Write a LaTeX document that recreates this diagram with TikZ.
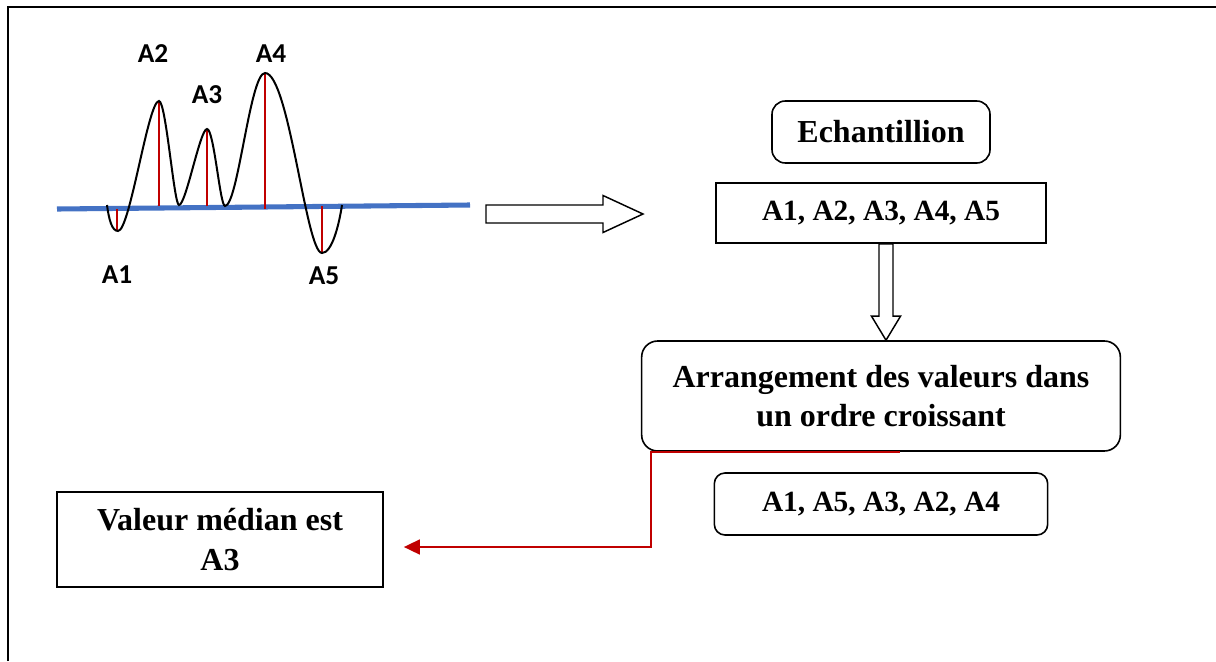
\documentclass[tikz,border=0pt]{standalone}
\usepackage{fontspec}
\setmainfont{Liberation Serif}
\newfontfamily\labelfont{Carlito}
\usetikzlibrary{shapes, calc, arrows.meta}
\definecolor{axisblue}{HTML}{4472C4}
\definecolor{stemred}{HTML}{C00000}

\begin{document}
\begin{tikzpicture}[x=0.75pt, y=-0.75pt]
		\tikzstyle{box}=[
		draw,
		rectangle,
		line width=1.2pt,
		inner sep=0pt,
		text centered,
		align=center,
		font=\fontsize{24}{29.5}\selectfont\bfseries]
		\tikzstyle{round}=[
		box,
		rounded corners=10pt]
		\tikzstyle{list}=[
		font=\fontsize{22}{26}\selectfont\bfseries]
		\tikzstyle{peak}=[
		anchor=base,
		font=\labelfont\bfseries\fontsize{20.5}{24}\selectfont]
		\tikzstyle{hollow}=[draw, fill=white, line width=1.1pt, line join=miter]
		\tikzstyle{stem}=[stemred, line width=1.5pt]
		\useasboundingbox (0,0) rectangle (1216,661);
		%
		\draw[line width=1.8pt] (8,661) -- (8,7) -- (1216,7);
		%
		% signal with its extremes
		\draw[axisblue, line width=3.8pt] (57,209) -- (470,205);
		\draw[stem] (117,208.5) -- (117,231);
		\draw[stem] (159,206) -- (159,101);
		\draw[stem] (207,206) -- (207,129);
		\draw[stem] (265,209) -- (265,73);
		\draw[stem] (322,206) -- (322,253);
		\draw[line width=1.5pt]
			(107,205) .. controls (109,220) and (112,231) .. (118,231)
			.. controls (130,231) and (148,101) .. (159,101)
			.. controls (166,101) and (174,205) .. (179,205)
			.. controls (186,205) and (200,129) .. (207,129)
			.. controls (214,129) and (220,206) .. (225,206)
			.. controls (238,206) and (250,73) .. (265,73)
			.. controls (289,73) and (306,253) .. (322,253)
			.. controls (332,253) and (339,225) .. (342,205);
		\node[peak] (P1) at (117,283) {A1};
		\node[peak] (P2) at (153,62) {A2};
		\node[peak] (P3) at (207,103) {A3};
		\node[peak] (P4) at (271,62) {A4};
		\node[peak] (P5) at (324,284) {A5};
		%
		% flow on the right
		\node[round, minimum width=163.5pt, minimum height=46.5pt] (E) at (881,132) {Echantillion};
		\node[box, list, minimum width=247.5pt, minimum height=45pt, below of=E, node distance=60.75pt] (S) {A1, A2, A3, A4, A5};
		\node[round, rounded corners=12pt, minimum width=359pt, minimum height=82.5pt, below of=S, node distance=137.25pt] (AR) {Arrangement des valeurs dans\\un ordre croissant};
		\node[round, list, rounded corners=8pt, minimum width=250pt, minimum height=46.5pt, below of=AR, node distance=81pt] (SO) {A1, A5, A3, A2, A4};
		\node[box, minimum width=244.5pt, minimum height=71pt] (M) at (220,539.5) {Valeur médian est\\A3};
		%
		\coordinate (T0) at (486,214);
		\coordinate (T1) at (643,214);
		\draw[hollow] ($(T0)+(0,-9)$) -- ($(T1)+(-40,-9)$) -- ($(T1)+(-40,-18.5)$) -- (T1)
			-- ($(T1)+(-40,18.5)$) -- ($(T1)+(-40,9)$) -- ($(T0)+(0,9)$) -- cycle;
		\coordinate (D0) at ($(S.south)+(5,0)$);
		\coordinate (D1) at ($(AR.north)+(5,0)$);
		\draw[hollow] ($(D0)+(-7,0)$) -- ($(D1)+(-7,-24)$) -- ($(D1)+(-14.5,-24)$) -- (D1)
			-- ($(D1)+(14.5,-24)$) -- ($(D1)+(7,-24)$) -- ($(D0)+(7,0)$) -- cycle;
		%
		\draw[stemred, line width=1.9pt, -{Triangle[length=12pt, width=11pt]}]
			($(AR.south)+(18.5,0)$) -- ($(AR.south west)+(10,0)$) |- ($(M.east)+(20,7.5)$);
	\end{tikzpicture}
\end{document}
